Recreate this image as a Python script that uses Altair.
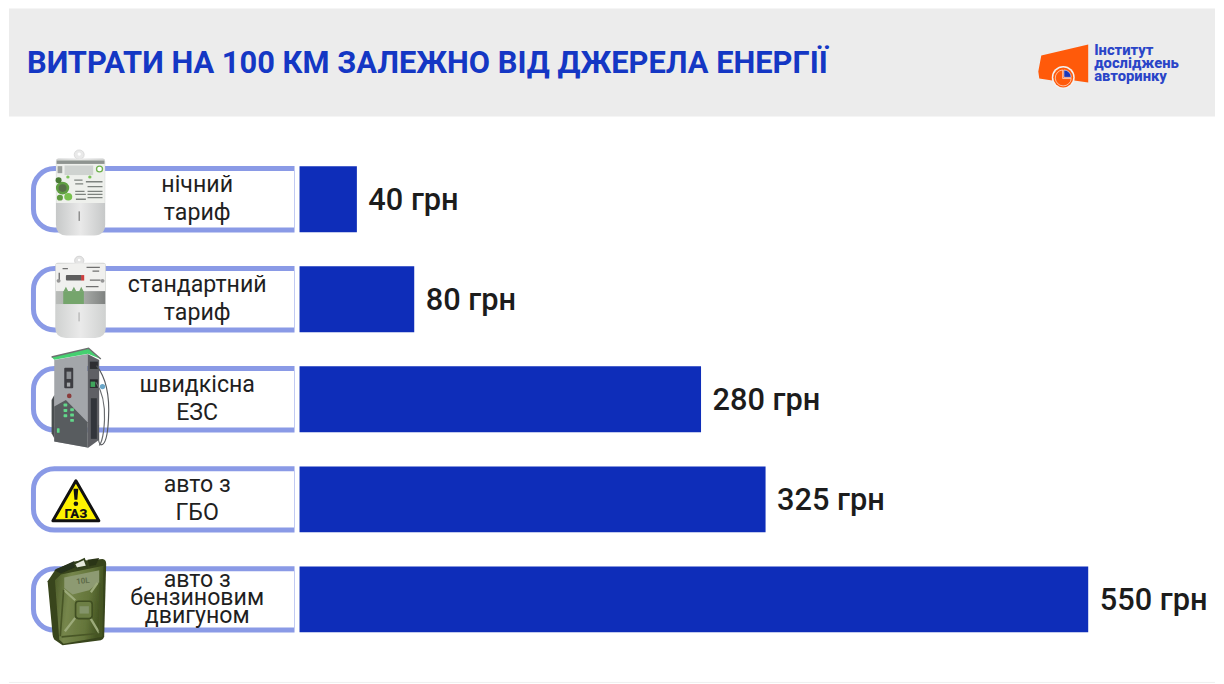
import base64
import altair as alt
import pandas as pd

TITLE = "ВИТРАТИ НА 100 КМ ЗАЛЕЖНО ВІД ДЖЕРЕЛА ЕНЕРГІЇ"
categories = ["нічний\nтариф", "стандартний\nтариф", "швидкісна\nЕЗС", "авто з\nГБО",
              "авто з\nбензиновим\nдвигуном"]
values = [40, 80, 280, 325, 550]
value_labels = ["40 грн", "80 грн", "280 грн", "325 грн", "550 грн"]
logo_lines = ["Інститут", "досліджень", "авторинку"]

BLUE = "#0e2db9"
STROKE = "#8a9ae6"
HEADER = "#ececec"
W, H = 1208, 676


def uri(svg):
    return "data:image/svg+xml;base64," + base64.b64encode(svg.encode("utf-8")).decode()


METER1 = """<svg xmlns='http://www.w3.org/2000/svg' viewBox='0 0 210 276' width='70' height='92' preserveAspectRatio='none'>
<defs><linearGradient id='g' x1='0' x2='1' y1='0' y2='0'><stop offset='0' stop-color='#c6c8c8'/><stop offset='.5' stop-color='#e9e9e9'/><stop offset='1' stop-color='#c6c8c8'/></linearGradient>
<filter id='b'><feGaussianBlur stdDeviation='1.6'/></filter></defs>
<circle cx='100' cy='20' r='15' fill='#e9e9e9' stroke='#d0d0d0' stroke-width='2'/><circle cx='100' cy='18' r='5' fill='#fff'/>
<path d='M38 32 H170 Q178 32 178 42 V240 Q178 272 145 274 H62 Q30 272 30 240 V42 Q30 32 38 32Z' fill='url(#g)'/>
<g filter='url(#b)'>
<path d='M31 36 H177 V172 H31Z' fill='#eef0ec'/>
<rect x='32' y='38' width='144' height='11' fill='#8e9490'/>
<rect x='56' y='54' width='86' height='30' fill='#cfd3d0'/>
<circle cx='161' cy='65' r='9' fill='#fff' stroke='#6fb24e' stroke-width='4'/>
<rect x='35' y='56' width='14' height='22' fill='#9a9f9b'/>
<circle cx='66' cy='90' r='5' fill='#7cc35a'/><circle cx='132' cy='90' r='5' fill='#7cc35a'/>
<circle cx='50' cy='125' r='20' fill='#5f9e42'/><circle cx='50' cy='125' r='12' fill='#58704a'/>
<circle cx='38' cy='100' r='9' fill='#4a7a35'/><circle cx='67' cy='152' r='12' fill='#79c04f'/><circle cx='42' cy='155' r='9' fill='#5e9a3f'/>
<path d='M85 100 h25 M88 112 h24 M120 105 h50 M125 120 h45 M88 135 h28 M88 145 h32 M125 135 h45 M125 145 h45 M125 155 h45 M90 160 h30' stroke='#7d827e' stroke-width='4'/>
<rect x='98' y='198' width='4' height='30' fill='#858585'/>
</g></svg>"""

METER2 = """<svg xmlns='http://www.w3.org/2000/svg' viewBox='0 0 210 264' width='70' height='88' preserveAspectRatio='none'>
<defs><linearGradient id='g' x1='0' x2='1' y1='0' y2='0'><stop offset='0' stop-color='#cfd1d0'/><stop offset='.5' stop-color='#eaeaea'/><stop offset='1' stop-color='#cfd1d0'/></linearGradient>
<linearGradient id='d' x1='0' x2='1' y1='0' y2='0'><stop offset='0' stop-color='#b9bcb9'/><stop offset='.55' stop-color='#a9aca9'/><stop offset='1' stop-color='#7f8280'/></linearGradient>
<filter id='b'><feGaussianBlur stdDeviation='1.6'/></filter></defs>
<circle cx='100' cy='17' r='14' fill='#e4e4e4' stroke='#c8c8c8' stroke-width='2'/><circle cx='100' cy='15' r='4' fill='#fff'/>
<path d='M36 24 H172 Q180 24 180 34 V225 Q180 256 148 258 H60 Q28 256 28 225 V34 Q28 24 36 24Z' fill='url(#g)'/>
<g filter='url(#b)'>
<rect x='30' y='27' width='148' height='85' fill='#f0f0ee'/>
<rect x='60' y='62' width='48' height='17' rx='3' fill='#5d5d5d'/><rect x='106' y='62' width='9' height='17' fill='#cf3e3e'/>
<path d='M50 42 h16 M122 38 h40 M140 50 h20 M40 55 v24 M120 98 h38 M132 78 h32' stroke='#6f6f6f' stroke-width='4'/>
<circle cx='38' cy='80' r='6' fill='#969696'/><circle cx='170' cy='80' r='6' fill='#969696'/>
<rect x='30' y='112' width='148' height='40' fill='url(#d)'/>
<rect x='52' y='112' width='62' height='40' fill='#74a56c'/>
<path d='M53 112 L60 98 L67 112Z M77 112 L84 98 L91 112Z M100 112 L106 98 L113 112Z' fill='#74a56c'/>
<rect x='98' y='178' width='3' height='28' fill='#a5a5a5'/>
</g></svg>"""

EVSE = """<svg xmlns='http://www.w3.org/2000/svg' viewBox='0 0 240 315' width='80' height='105'>
<defs><filter id='b'><feGaussianBlur stdDeviation='1'/></filter></defs>
<g filter='url(#b)'>
<path d='M25 45 L125 27 L125 308 L25 290Z' fill='#a3a6aa'/>
<path d='M125 27 L160 45 L160 285 L125 310Z' fill='#5e6165'/>
<path d='M25 185 L60 165 L125 232 L125 308 L25 290Z' fill='#585b5f'/>
<path d='M17 36 L128 10 L165 42 L126 26 L25 44Z' fill='#45d06f'/>
<path d='M17 36 L128 10 L165 42' fill='none' stroke='#6e6f70' stroke-width='4'/>
<path d='M25 150 L17 165 L17 265 L25 280Z' fill='#4a4d50'/>
<rect x='55' y='68' width='27' height='62' rx='3' fill='#3c3e42'/><rect x='62' y='80' width='14' height='22' fill='#8d9094'/><rect x='63' y='113' width='10' height='12' fill='#a5a8ab'/>
<circle cx='70' cy='153' r='7' fill='#8b3a3a'/>
<g fill='#62d88a'><rect x='53' y='176' width='11' height='9' rx='2'/><rect x='53' y='192' width='11' height='9' rx='2'/><rect x='53' y='208' width='11' height='9' rx='2'/><rect x='73' y='190' width='11' height='9' rx='2'/><rect x='73' y='206' width='11' height='9' rx='2'/><rect x='73' y='222' width='11' height='9' rx='2'/><rect x='33' y='250' width='8' height='14' rx='2'/></g>
<rect x='135' y='160' width='18' height='122' fill='#33353a'/>
<rect x='132' y='50' width='24' height='22' fill='#2d2f32'/><rect x='132' y='103' width='24' height='26' fill='#2a2c2e'/><rect x='134' y='110' width='14' height='16' fill='#3fa55c'/>
<path d='M152 62 C178 95 192 150 188 220 C186 270 178 300 165 300 C156 296 156 270 158 240' fill='none' stroke='#55585c' stroke-width='3.5'/>
<path d='M150 112 C166 135 178 170 176 225 C174 265 170 290 160 302' fill='none' stroke='#6a6d70' stroke-width='3.5'/>
<circle cx='170' cy='125' r='8' fill='#6aa6c8'/>
</g></svg>"""

GAS = """<svg xmlns='http://www.w3.org/2000/svg' viewBox='0 0 50 46' width='50' height='46'>
<path d='M25 3 L48 43 L2 43 Z' fill='#fff200' stroke='#111' stroke-width='3' stroke-linejoin='round'/>
<path d='M22.6 11 H27.4 L26.4 22 H23.6 Z' fill='#111'/><circle cx='25' cy='26' r='2.3' fill='#111'/>
</svg>"""

CAN = """<svg xmlns='http://www.w3.org/2000/svg' viewBox='0 0 240 300' width='80' height='100'>
<defs><linearGradient id='f' x1='0' x2='1' y1='0' y2='0.2'><stop offset='0' stop-color='#4a5a26'/><stop offset='.35' stop-color='#76864c'/><stop offset='.75' stop-color='#64753a'/><stop offset='1' stop-color='#445422'/></linearGradient>
<filter id='b'><feGaussianBlur stdDeviation='1'/></filter></defs>
<g filter='url(#b)'>
<path d='M20 95 L45 58 L105 35 L185 28 Q196 30 196 42 L190 262 Q188 270 180 272 L65 287 L40 270 Q36 265 35 255Z' fill='#37441b'/>
<path d='M42 92 L60 75 L188 48 L185 262 L68 283 L55 270Z' fill='url(#f)'/>
<path d='M70 84 L175 62 L175 98 L145 122 L95 135 L70 115Z' fill='#8d9a72'/>
<path d='M68 120 L103 152 M170 100 L150 128 M72 245 L103 205 M175 250 L148 205' stroke='#9caa7a' stroke-width='7' fill='none'/>
<path d='M68 120 L58 260 M178 100 L176 250 M62 262 L172 252' stroke='#485727' stroke-width='5' fill='none'/>
<rect x='104' y='155' width='50' height='52' rx='9' fill='#6d7f45' stroke='#404f20' stroke-width='5'/>
<rect x='116' y='170' width='28' height='22' fill='#84946b'/>
<path d='M40 62 L100 34 L105 52 L60 72Z' fill='#27301a'/>
<path d='M100 42 L130 28 L138 50 L107 56Z' fill='#e5e8dc' stroke='#32401b' stroke-width='5'/>
<path d='M140 30 L175 25 L165 46 L145 50Z' fill='#2c3518'/>
</g></svg>"""

LOGO = """<svg xmlns='http://www.w3.org/2000/svg' viewBox='0 0 52 46' width='52' height='46'>
<path d='M4 12 L51 1 L51 39 L37 37 L15 37 L2 35 L1 28Z' fill='#ff5a0a'/>
<circle cx='26' cy='34' r='11.5' fill='#f2f2f2'/><circle cx='26' cy='34' r='10' fill='#ff5a0a'/>
<path d='M26.6 26.5 A7.4 7.4 0 0 1 34 33.9 L26.6 33.9Z' fill='#1b37b8' stroke='#fff' stroke-width='.6'/>
<path d='M25.4 26.5 L25.4 35.1 L34 35.1 A8 8 0 1 1 25.4 26.5Z' fill='#ff5a0a' stroke='#fff' stroke-width='.6'/>
</svg>"""

df = pd.DataFrame({"category": categories, "value": values, "label": value_labels})

y = alt.Y("category:N", sort=categories, axis=None,
          scale=alt.Scale(domain=categories, range=[140.9, 641.9],
                          paddingInner=0.3413, paddingOuter=0.1707))
x = alt.X("value:Q", axis=None, scale=alt.Scale(domain=[0, 550], range=[291, 1081]))
base = alt.Chart(df)

header = alt.Chart(df.head(1)).mark_rect(color=HEADER).encode(
    x=alt.value(0), x2=alt.value(W), y=alt.value(0), y2=alt.value(108))
footer = alt.Chart(df.head(1)).mark_rule(color="#f0f0f0", strokeWidth=1).encode(
    x=alt.value(0), x2=alt.value(W), y=alt.value(H - 1))
title = alt.Chart(pd.DataFrame({"t": [TITLE]})).mark_text(
    font="Roboto", fontSize=30.9, fontWeight=700, color="#1437c4", align="left", baseline="middle"
).encode(text="t:N", x=alt.value(18), y=alt.value(56))

bracket = base.mark_bar(height=61.5, fill="white", stroke=STROKE, strokeWidth=5,
                        cornerRadiusTopLeft=21, cornerRadiusBottomLeft=21).encode(
    y=y, x=alt.value(24.5), x2=alt.value(288))
strip = base.mark_bar(height=72, fill="white").encode(y=y, x=alt.value(286), x2=alt.value(291))
bars = base.mark_bar(color=BLUE).encode(y=y, x=x, x2=alt.X2(datum=0))

two = df[df["category"].str.count("\n") == 1]
three = df[df["category"].str.count("\n") == 2]
cat2 = alt.Chart(two).mark_text(font="Roboto", fontSize=23.2, fontWeight=400, color="#1f1f1f", align="center",
                                baseline="middle", lineBreak="\n", lineHeight=28, dy=-14.5).encode(
    y=y, x=alt.value(188.5), text="category:N")
cat3 = alt.Chart(three).mark_text(font="Roboto", fontSize=23.2, fontWeight=400, color="#1f1f1f", align="center",
                                  baseline="middle", lineBreak="\n", lineHeight=18, dy=-19.5).encode(
    y=y, x=alt.value(188.5), text="category:N")
vals = base.mark_text(font="Roboto", fontSize=30.8, fontWeight=500, color="#1c1c1c", align="left",
                      baseline="middle", dx=11.5, dy=2).encode(y=y, x=x, text="label:N")


def icon(svg, x0, y0, x1, y1):
    return alt.Chart(df.head(1)).mark_image(url=uri(svg), width=x1 - x0, height=y1 - y0, aspect=False,
                                            align="center", baseline="middle").encode(
        x=alt.value((x0 + x1) / 2 - 8), y=alt.value((y0 + y1) / 2 - 8))


icons = [
    icon(METER1, 45, 148, 115, 236),
    icon(METER2, 45, 255, 115, 340),
    icon(EVSE, 45, 345, 125, 450),
    icon(GAS, 50, 478, 100, 524),
    icon(CAN, 40, 550, 120, 650),
    icon(LOGO, 1038, 43, 1090, 89),
]
gas_text = alt.Chart(pd.DataFrame({"t": ["ГАЗ"]})).mark_text(
    font="Roboto", fontSize=13, fontWeight=900, color="#111111", align="center", baseline="middle"
).encode(text="t:N", x=alt.value(67), y=alt.value(506.5))
can_text = alt.Chart(pd.DataFrame({"t": ["10L"]})).mark_text(
    font="Roboto", fontSize=8, fontWeight=700, color="#5f6c4a", align="center", baseline="middle", angle=354
).encode(text="t:N", x=alt.value(74), y=alt.value(574))
logo_df = pd.DataFrame({"t": logo_lines, "i": [0, 1, 2]})
logo = alt.Chart(logo_df).mark_text(
    font="Roboto", fontSize=14.8, fontWeight=800, color="#2a45c8", align="left", baseline="middle"
).encode(text="t:N", x=alt.value(1087),
         y=alt.Y("i:O", axis=None, scale=alt.Scale(domain=[0, 1, 2], range=[36.5, 75.5], paddingInner=0, paddingOuter=0)))

chart = alt.layer(header, footer, title, bracket, strip, bars, cat2, cat3, vals, *icons, gas_text, can_text, logo
                  ).resolve_scale(y="independent", x="shared").properties(
    width=W, height=H, padding=0, background="white"
).configure_view(stroke=None)
chart.save("out.html", embed_options={"renderer": "svg", "actions": False})
